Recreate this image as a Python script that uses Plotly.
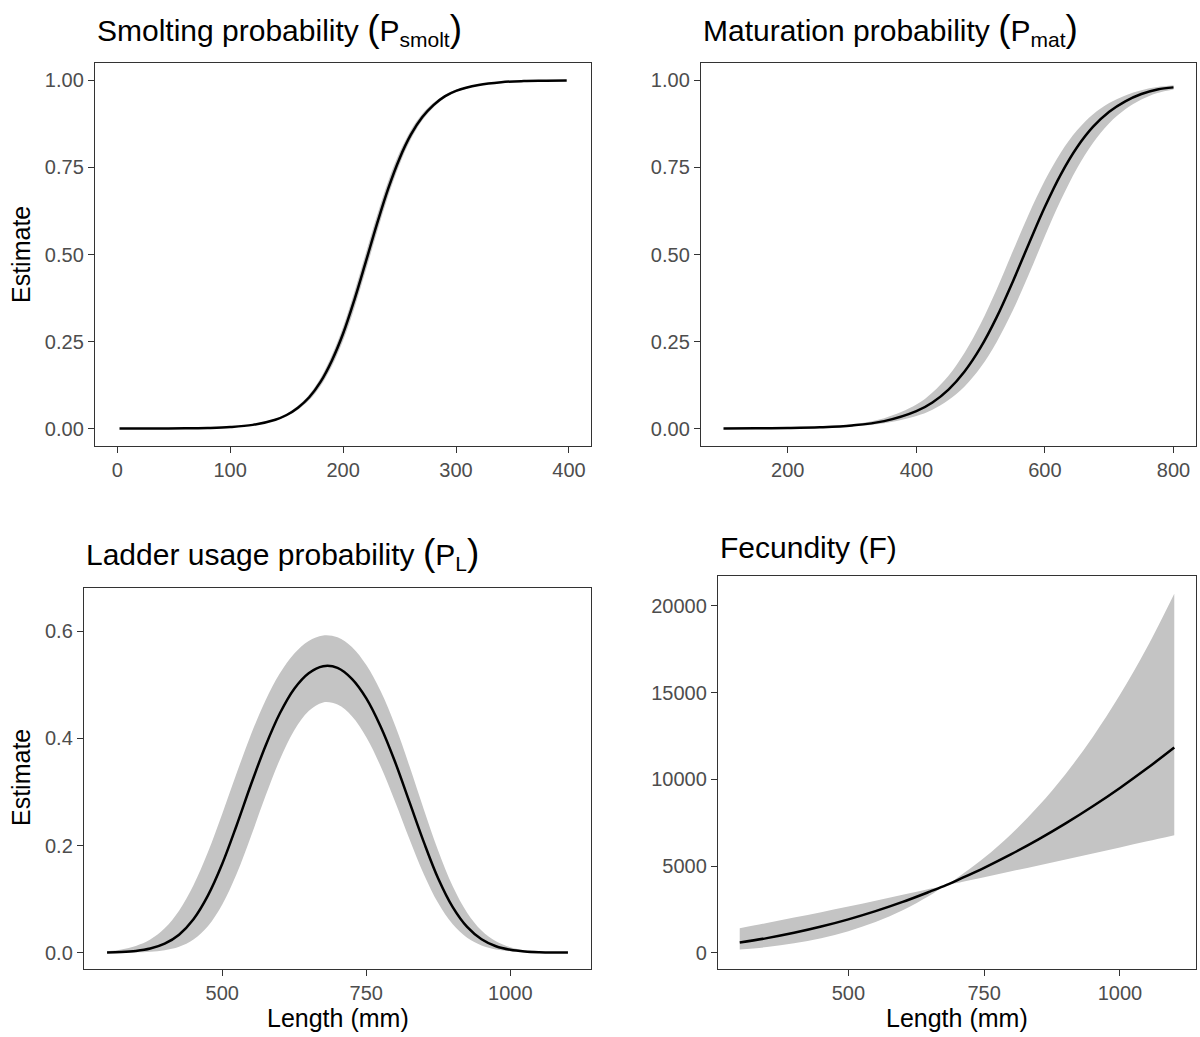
import plotly.graph_objects as go

W, H = 1200, 1037

# ---------------- Data ----------------
# Panel 1: Smolting probability
smolt_x = [2, 20, 40, 60, 80, 100, 120, 140, 150, 160, 170, 180, 190, 200, 210, 220,
           230, 240, 250, 260, 270, 280, 290, 300, 320, 340, 360, 380, 398]
smolt_est = [0.0001, 0.0001, 0.0003, 0.0007, 0.0018, 0.0044, 0.0107, 0.0255, 0.039, 0.060,
             0.090, 0.134, 0.195, 0.273, 0.370, 0.478, 0.588, 0.690, 0.776, 0.844, 0.894,
             0.929, 0.954, 0.970, 0.987, 0.995, 0.998, 0.999, 1.000]
smolt_lo = [0.0001, 0.0001, 0.0003, 0.0006, 0.0016, 0.0040, 0.0096, 0.0230, 0.0353, 0.0544,
            0.0818, 0.1224, 0.1793, 0.2532, 0.3467, 0.4530, 0.5638, 0.6686, 0.7586, 0.8308,
            0.8845, 0.9224, 0.9496, 0.9671, 0.9857, 0.9945, 0.9978, 0.9989, 0.9999]
smolt_hi = [0.0001, 0.0001, 0.0003, 0.0008, 0.0020, 0.0048, 0.0118, 0.0280, 0.0427, 0.0656,
            0.0982, 0.1456, 0.2107, 0.2928, 0.3933, 0.5030, 0.6122, 0.7114, 0.7934, 0.8572,
            0.9035, 0.9356, 0.9584, 0.9729, 0.9883, 0.9955, 0.9982, 0.9991, 1.0]

# Panel 2: Maturation probability
mat_x = [100, 150, 200, 250, 300, 350, 400, 425, 450, 475, 500, 525, 550, 575, 600, 625,
         650, 675, 700, 725, 750, 775, 800]
mat_est = [0.0003, 0.0007, 0.0016, 0.0038, 0.0090, 0.0214, 0.050, 0.075, 0.112, 0.164, 0.233,
           0.320, 0.422, 0.531, 0.637, 0.731, 0.808, 0.867, 0.910, 0.940, 0.961, 0.974, 0.980]
mat_hi = [0.0004, 0.0009, 0.0022, 0.0053, 0.0127, 0.030, 0.069, 0.104, 0.152, 0.218, 0.301,
          0.400, 0.509, 0.616, 0.713, 0.794, 0.857, 0.903, 0.935, 0.957, 0.972, 0.981, 0.986]
mat_lo = [0.0002, 0.0005, 0.0011, 0.0027, 0.0064, 0.0151, 0.036, 0.054, 0.082, 0.121, 0.176,
          0.249, 0.339, 0.443, 0.553, 0.657, 0.748, 0.821, 0.877, 0.917, 0.945, 0.964, 0.974]

# Panel 3: Ladder usage probability
lad_x = [300, 325, 350, 375, 400, 425, 450, 475, 500, 525, 550, 575, 600, 625, 650, 675, 700,
         725, 750, 775, 800, 825, 850, 875, 900, 925, 950, 975, 1000, 1025, 1050, 1075, 1100]
lad_est = [0.0005, 0.0013, 0.0033, 0.0077, 0.0168, 0.0336, 0.0624, 0.1065, 0.166, 0.238,
           0.3145, 0.386, 0.447, 0.493, 0.522, 0.535, 0.532, 0.5115, 0.475, 0.422, 0.356,
           0.281, 0.206, 0.138, 0.085, 0.048, 0.025, 0.012, 0.0054, 0.0023, 0.0009, 0.0003, 0.0001]
lad_hi = [0.0027, 0.0060, 0.0126, 0.0246, 0.0455, 0.0784, 0.126, 0.1875, 0.2596, 0.3354,
          0.4078, 0.471, 0.5217, 0.5587, 0.582, 0.5924, 0.589, 0.571, 0.537, 0.488, 0.424,
          0.348, 0.267, 0.190, 0.124, 0.0747, 0.0413, 0.0212, 0.0102, 0.0046, 0.0019, 0.0008, 0.0003]
lad_lo = [0.0001, 0.0002, 0.0006, 0.0017, 0.0046, 0.0111, 0.0246, 0.0494, 0.090, 0.1474,
          0.2179, 0.2924, 0.3608, 0.4153, 0.4512, 0.4673, 0.4633, 0.4415, 0.4023, 0.3476,
          0.2818, 0.2118, 0.1462, 0.0921, 0.0529, 0.0278, 0.0135, 0.0060, 0.0025, 0.0010,
          0.0003, 0.0001, 0.0]

# Panel 4: Fecundity
fec_x = [300, 350, 400, 450, 500, 550, 600, 650, 680, 700, 750, 800, 850, 900, 950, 1000, 1050, 1100]
fec_est = [596, 850, 1155, 1515, 1930, 2403, 2935, 3529, 3900, 4184, 4904, 5689, 6540, 7460,
           8447, 9505, 10633, 11833]
fec_hi = [1425, 1723, 2031, 2347, 2672, 3004, 3344, 3689, 3900, 4313, 5480, 6854, 8459, 10315,
          12446, 14870, 17609, 20697]
fec_lo = [189, 334, 548, 847, 1250, 1779, 2454, 3301, 3900, 4032, 4365, 4701, 5041, 5383, 5729,
          6077, 6427, 6781]

# Tick labels
p_ticks = [0, 0.25, 0.5, 0.75, 1.0]
lad_ticks = [0, 0.2, 0.4, 0.6]
fec_ticks = [0, 5000, 10000, 15000, 20000]
smolt_xticks = [0, 100, 200, 300, 400]
mat_xticks = [200, 400, 600, 800]
len_xticks = [500, 750, 1000]

LP = '<span style="font-size:37px">(</span>'
RP = '<span style="font-size:37px">)</span>'
titles = ["Smolting probability " + LP + "P<sub>smolt</sub>" + RP,
          "Maturation probability " + LP + "P<sub>mat</sub>" + RP,
          "Ladder usage probability " + LP + "P<sub>L</sub>" + RP,
          "Fecundity (F)"]

# ---------------- Layout geometry (pixels) ----------------
FONT = "Liberation Sans, Arial, Helvetica, sans-serif"
BAND = "#C4C4C4"
FRAME = "#333333"

panels = [
    dict(x=smolt_x, est=smolt_est, lo=smolt_lo, hi=smolt_hi, box=(95, 591, 63, 446),
         xr=[-19.7, 419.5], yr=[-0.05, 1.05], xt=smolt_xticks, yt=p_ticks, yf=".2f",
         title_y=29),
    dict(x=mat_x, est=mat_est, lo=mat_lo, hi=mat_hi, box=(701, 1196, 63, 446),
         xr=[65, 835], yr=[-0.05, 1.05], xt=mat_xticks, yt=p_ticks, yf=".2f",
         title_y=29),
    dict(x=lad_x, est=lad_est, lo=lad_lo, hi=lad_hi, box=(84, 591, 588, 969),
         xr=[260, 1140], yr=[-0.0305, 0.681], xt=len_xticks, yt=lad_ticks, yf=".1f",
         title_y=553),
    dict(x=fec_x, est=fec_est, lo=fec_lo, hi=fec_hi, box=(718, 1196, 576, 969),
         xr=[260, 1140], yr=[-930, 21720], xt=len_xticks, yt=fec_ticks, yf="d",
         title_y=547),
]

fig = go.Figure()
annotations = []
for i, p in enumerate(panels):
    n = "" if i == 0 else str(i + 1)
    xa, ya = "x" + n, "y" + n
    fig.add_trace(go.Scatter(x=p["x"], y=p["lo"], xaxis=xa, yaxis=ya, mode="lines",
                             line=dict(width=0, shape="spline", color=BAND),
                             showlegend=False, hoverinfo="skip"))
    fig.add_trace(go.Scatter(x=p["x"], y=p["hi"], xaxis=xa, yaxis=ya, mode="lines",
                             line=dict(width=0, shape="spline", color=BAND),
                             fill="tonexty", fillcolor=BAND,
                             showlegend=False, hoverinfo="skip"))
    fig.add_trace(go.Scatter(x=p["x"], y=p["est"], xaxis=xa, yaxis=ya, mode="lines",
                             line=dict(width=2.5, shape="spline", color="black"),
                             showlegend=False))
    l, r, t, b = p["box"]
    common = dict(showline=True, mirror=True, linecolor=FRAME, linewidth=1.4,
                  ticks="outside", ticklen=6, tickwidth=1.4, tickcolor=FRAME,
                  tickfont=dict(family=FONT, size=20, color="#4D4D4D"),
                  showgrid=False, zeroline=False)
    fig.update_layout(**{
        ("xaxis" + n): dict(domain=[l / W, r / W], range=p["xr"], anchor=ya,
                            tickmode="array", tickvals=p["xt"], **common),
        ("yaxis" + n): dict(domain=[1 - b / H, 1 - t / H], range=p["yr"], anchor=xa,
                            tickmode="array", tickvals=p["yt"], tickformat=p["yf"], **common),
    })
    annotations.append(dict(text=titles[i], x=l / W, y=1 - p["title_y"] / H,
                            xref="paper", yref="paper", xanchor="left", yanchor="middle",
                            showarrow=False, font=dict(family=FONT, size=30, color="black")))

# Axis titles
for yc in (255, 778):
    annotations.append(dict(text="Estimate", x=21 / W, y=1 - yc / H, xref="paper", yref="paper",
                            xanchor="center", yanchor="middle", textangle=-90, showarrow=False,
                            font=dict(family=FONT, size=25, color="black")))
for xc in (338, 957):
    annotations.append(dict(text="Length (mm)", x=xc / W, y=1 - 1018 / H, xref="paper",
                            yref="paper", xanchor="center", yanchor="middle", showarrow=False,
                            font=dict(family=FONT, size=25, color="black")))

fig.update_layout(width=W, height=H, margin=dict(l=0, r=0, t=0, b=0),
                  paper_bgcolor="white", plot_bgcolor="white",
                  annotations=annotations, showlegend=False,
                  font=dict(family=FONT))

fig.write_html("out.html")
